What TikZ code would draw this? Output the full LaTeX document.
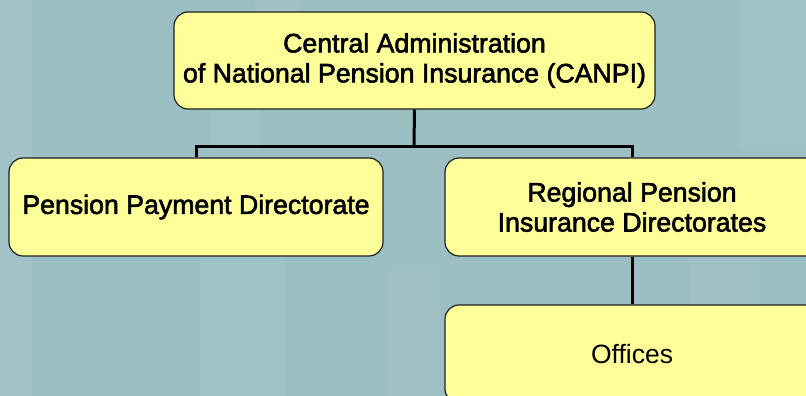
\documentclass[tikz,border=0pt]{standalone}
\usepackage{fontspec}
\setmainfont{Liberation Sans}
\newfontfamily\boxfont[FakeBold=2.2]{Liberation Sans}
\newfontfamily\plainfont{Liberation Sans}
\definecolor{bgteal}{HTML}{9CBFC3}
\definecolor{bglight}{HTML}{A6C8CB}
\definecolor{boxfill}{HTML}{FFFF99}
\definecolor{boxline}{HTML}{1E1E1E}
\begin{document}
\begin{tikzpicture}[x=1pt,y=-1pt,
  orgbox/.style={draw=boxline, line width=1.2pt, fill=boxfill,
    rounded corners=14pt, align=center, inner sep=0pt,
    font=\boxfont\fontsize{26.7}{30}\selectfont},
  link/.style={draw=black, line width=3pt}]
  \useasboundingbox (0,0) rectangle (806,396);
  \clip (0,0) rectangle (806,396);
  % textured slide background
  \fill[bgteal] (0,0) rectangle (806,396);
  \fill[bglight, opacity=0.5] (0,0) rectangle (32,396);
  \fill[bglight, opacity=0.35] (200,260) rectangle (285,396);
  \fill[bglight, opacity=0.35] (210,100) rectangle (260,150);
  \fill[bglight, opacity=0.3] (388,270) rectangle (440,396);
  \fill[bglight, opacity=0.35] (740,0) rectangle (806,150);
  \fill[bglight, opacity=0.3] (255,0) rectangle (300,12);
  \fill[bglight, opacity=0.3] (690,260) rectangle (760,305);
  % boxes
  \node[orgbox, minimum width=481pt, minimum height=97pt] (canpi) at (414.5,60.5)
    {Central Administration\\of National Pension Insurance (CANPI)};
  \node[orgbox, minimum width=374pt, minimum height=98pt] (ppd) at (196,207)
    {Pension Payment Directorate};
  \node[orgbox, minimum width=374pt, minimum height=98pt] (rpid) at (632,207)
    {Regional Pension\\Insurance Directorates};
  \node[orgbox, minimum width=374pt, minimum height=98pt,
    font=\plainfont\fontsize{26.5}{30}\selectfont] (off) at (632,354)
    {Offices};
  % connectors
  \coordinate (split) at (414,146.5);
  \draw[link] (canpi.south) -- (split);
  \draw[link] (ppd.north) |- (split) -| (rpid.north);
  \draw[link] (rpid.south) -- (off.north);
\end{tikzpicture}
\end{document}
